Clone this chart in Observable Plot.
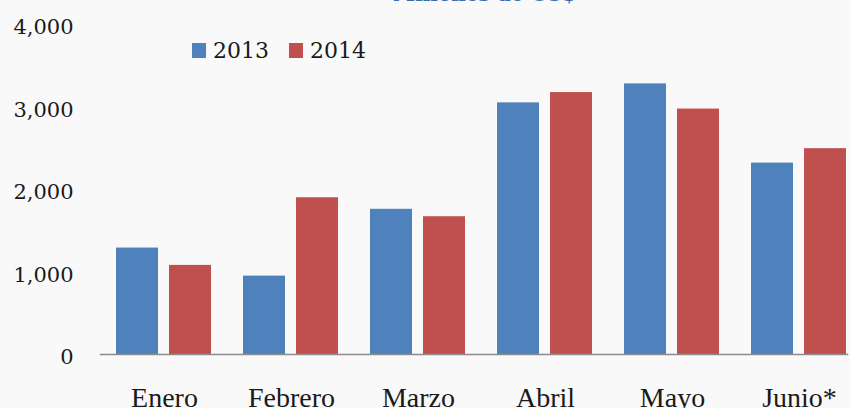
<!DOCTYPE html>
<html>
<head>
<meta charset="utf-8">
<script src="https://cdn.jsdelivr.net/npm/d3@7"></script>
<script src="https://cdn.jsdelivr.net/npm/@observablehq/plot@0.6"></script>
<style>
  html, body { margin: 0; padding: 0; background: #f9f9f9; overflow: hidden; width: 850px; height: 408px; }
  #wrap { position: relative; width: 850px; height: 408px; overflow: hidden; }
  #title { position: absolute; top: -18.5px; left: 393px; white-space: nowrap; font: bold 20px "DejaVu Serif"; color: #3d6bb0; }
  #legend { position: absolute; left: 192px; top: 38px; display: flex; align-items: center; font: 22px "DejaVu Serif"; color: #1a1a1a; }
  .item { display: flex; align-items: center; margin-right: 20px; }
  .sw { width: 14px; height: 15px; margin-right: 7px; }
  svg { max-width: none !important; }
</style>
</head>
<body>
<div id="wrap">
  <div id="title"></div>
  <div id="chart"></div>
  <div id="legend"></div>
</div>
<script>
const titleText = "Millones de US$";
const months = ["Enero", "Febrero", "Marzo", "Abril", "Mayo", "Junio*"];
const years = ["2013", "2014"];
const values2013 = [1290, 950, 1760, 3050, 3280, 2320];
const values2014 = [1080, 1900, 1670, 3175, 2975, 2495];
const yTicks = [0, 1000, 2000, 3000, 4000];
const colors = ["#4f81bd", "#c0504d"];

const data = months.flatMap((m, i) => [
  {month: m, year: years[0], value: values2013[i]},
  {month: m, year: years[1], value: values2014[i]}
]);

document.getElementById("title").textContent = titleText;

const legend = document.getElementById("legend");
years.forEach((y, i) => {
  const it = document.createElement("div");
  it.className = "item";
  const sw = document.createElement("div");
  sw.className = "sw";
  sw.style.background = colors[i];
  const tx = document.createElement("span");
  tx.textContent = y;
  it.appendChild(sw);
  it.appendChild(tx);
  legend.appendChild(it);
});

const chart = Plot.plot({
  width: 850,
  height: 420,
  marginLeft: 100,
  marginRight: -13,
  marginTop: 24,
  marginBottom: 66,
  style: {background: "transparent", fontFamily: "DejaVu Serif", color: "#1a1a1a"},
  fx: {domain: months, paddingInner: 0.246, paddingOuter: 0.123, label: null, axis: null},
  x: {domain: years, paddingInner: 0.2, paddingOuter: 0, axis: null},
  y: {domain: [0, 4000], axis: null},
  color: {domain: years, range: colors},
  marks: [
    Plot.barY(data, {fx: "month", x: "year", y: "value", fill: "year"}),
    Plot.frame({anchor: "bottom", stroke: "#8c8c8c", strokeWidth: 1.5, insetLeft: -16, facet: "super"}),
    Plot.axisY(yTicks, {tickSize: 0, tickPadding: 43, tickFormat: d3.format(","), fontSize: 21, fontFamily: "DejaVu Serif", fill: "#1a1a1a", dy: 3, label: null}),
    Plot.axisFx({anchor: "bottom", tickSize: 0, tickPadding: 33, fontSize: 28, fontFamily: "Liberation Serif", fill: "#1a1a1a", label: null})
  ]
});
document.getElementById("chart").appendChild(chart);
</script>
</body>
</html>
